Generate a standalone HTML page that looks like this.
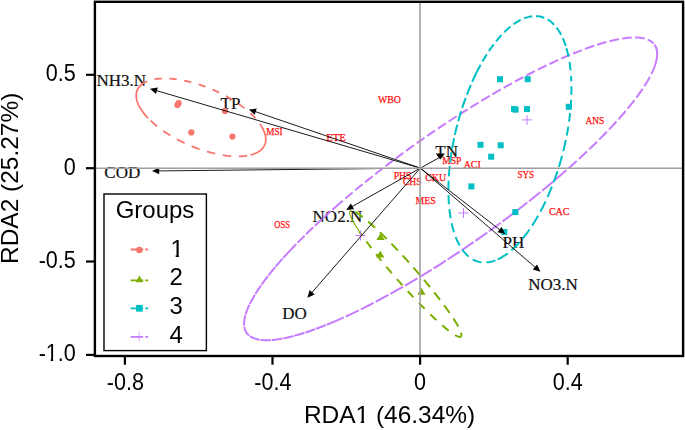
<!DOCTYPE html>
<html><head><meta charset="utf-8"><title>RDA</title>
<style>html,body{margin:0;padding:0;background:#fff}svg{display:block}</style></head>
<body>
<svg width="685" height="430" viewBox="0 0 685 430">
<rect width="685" height="430" fill="#fff"/>
<g font-family="'Liberation Serif', serif" font-size="10.6px" fill="#ff1010" stroke="#ff1010" stroke-width="0.25">
<text x="377.9" y="102.9" textLength="22.9" lengthAdjust="spacingAndGlyphs">WBO</text>
<text x="326.2" y="140.6" textLength="19.7" lengthAdjust="spacingAndGlyphs">ETE</text>
<text x="266.3" y="135.2" textLength="16.3" lengthAdjust="spacingAndGlyphs">MSI</text>
<text x="442.2" y="164.1" textLength="19.2" lengthAdjust="spacingAndGlyphs">MSP</text>
<text x="463.7" y="167.9" textLength="17.0" lengthAdjust="spacingAndGlyphs">ACI</text>
<text x="393.7" y="179.1" textLength="17.8" lengthAdjust="spacingAndGlyphs">PHS</text>
<text x="402.9" y="185.1" textLength="18.8" lengthAdjust="spacingAndGlyphs">CHS</text>
<text x="425.2" y="180.7" textLength="21.0" lengthAdjust="spacingAndGlyphs">CKU</text>
<text x="415.6" y="203.5" textLength="20.1" lengthAdjust="spacingAndGlyphs">MES</text>
<text x="517.5" y="178.0" textLength="16.6" lengthAdjust="spacingAndGlyphs">SYS</text>
<text x="548.9" y="214.6" textLength="20.6" lengthAdjust="spacingAndGlyphs">CAC</text>
<text x="585.5" y="123.6" textLength="18.7" lengthAdjust="spacingAndGlyphs">ANS</text>
<text x="274.3" y="227.6" textLength="15.8" lengthAdjust="spacingAndGlyphs">OSS</text>
</g>
<g font-family="'Liberation Serif', serif" font-size="17px" fill="#111" stroke="#111" stroke-width="0.2">
<text x="96.5" y="85.5">NH3.N</text>
<text x="220.6" y="108.5">TP</text>
<text x="104.3" y="178.0">COD</text>
<text x="435.3" y="156.9">TN</text>
<text x="312.6" y="221.5">NO2.N</text>
<text x="282.3" y="319.1">DO</text>
<text x="502.6" y="248.4">PH</text>
<text x="528.2" y="290.2">NO3.N</text>
</g>
<g fill="none" stroke="#C77CFF" stroke-width="2.00">
<path d="M654.18 67.64 L655.03 65.29 L655.75 63.03 L656.32 60.86 L656.75 58.77 L657.03 56.78 L657.17 54.87 L657.17 53.06 L657.03 51.35 L656.74 49.73 L656.30 48.20 L655.73 46.78 L655.01 45.45 L654.15 44.22 L653.15 43.10 L652.00 42.07 L650.72 41.15 L649.30 40.33 L647.74 39.61" stroke-dasharray="24 1.2 40 3" stroke-dashoffset="0.0"/>
<path d="M647.74 39.61 L646.05 39.01 L644.24 38.50 L642.28 38.10 L640.20 37.80 L637.99 37.60 L635.65 37.51 L633.18 37.52 L630.59 37.63 L627.87 37.85 L625.04 38.17 L622.08 38.60 L619.00 39.13 L615.81 39.76 L612.51 40.49 L609.10 41.33 L605.58 42.26 L601.95 43.30 L598.21 44.44 L594.38 45.67 L590.45 47.00 L586.42 48.43 L582.30 49.96 L578.09 51.58 L573.79 53.30 L569.41 55.11 L564.94 57.01 L560.40 59.00 L555.78 61.08 L551.09 63.25 L546.33 65.50 L541.51 67.84 L536.62 70.26 L531.68 72.76 L526.68 75.34 L521.62 78.00 L516.52 80.74 L511.37 83.55 L506.19 86.43 L500.96 89.38 L495.70 92.40 L490.41 95.49 L485.09 98.64 L479.74 101.85 L474.38 105.12 L469.00 108.45 L463.61 111.83 L458.21 115.27 L452.80 118.76 L447.40 122.29 L441.99 125.87 L436.59 129.50 L431.20 133.16 L425.83 136.87 L420.47 140.61 L415.13 144.38 L409.81 148.18 L404.53 152.01 L399.27 155.86 L394.05 159.74 L388.87 163.64 L383.73 167.56 L378.64 171.49 L373.60 175.43 L368.61 179.38 L363.68 183.34 L358.80 187.30 L353.99 191.26 L349.24 195.22 L344.57 199.18 L339.96 203.12" stroke-dasharray="9.6 3.3" stroke-dashoffset="9.6"/>
<path d="M339.96 203.12 L335.31 207.17 L330.74 211.21 L326.26 215.23 L321.87 219.23 L317.57 223.21 L313.37 227.16 L309.27 231.08 L305.27 234.98 L301.37 238.84 L297.59 242.67 L293.91 246.45 L290.35 250.20" stroke-dasharray="10 2" stroke-dashoffset="0.0"/>
<path d="M290.35 250.20 L286.97 253.82 L283.72 257.39 L280.57 260.92 L277.55 264.40 L274.64 267.82 L271.86 271.19 L269.20 274.51 L266.66 277.76 L264.25 280.95 L261.98 284.08 L259.83 287.15 L257.81 290.14 L255.93 293.06 L254.18 295.92 L252.57 298.70 L251.10 301.40 L249.77 304.02 L248.57 306.57 L247.51 309.03 L246.60 311.41 L245.82 313.70 L245.19 315.91 L244.70 318.03 L244.36 320.06 L244.15 322.00 L244.09 323.85 L244.17 325.60 L244.40 327.26 L244.77 328.83 L245.28 330.29 L245.93 331.66 L246.72 332.93 L247.66 334.10 L248.74 335.17 L249.95 336.14 L251.31 337.00 L252.80 337.77 L254.43 338.43 L256.20 338.98 L258.10 339.43 L260.13 339.78 L262.30 340.03 L264.60 340.16 L267.02 340.20 L269.57 340.13 L272.25 339.95 L275.05 339.67 L277.98 339.29 L281.02 338.80 L284.18 338.20 L287.46 337.51 L290.85 336.71 L294.35 335.81 L297.96 334.80 L301.67 333.70 L305.49 332.49 L309.40 331.19 L313.42 329.78 L317.53 328.28 L321.73 326.69 L326.02 324.99 L330.40 323.21" stroke-dasharray="10.5 0.9" stroke-dashoffset="0.0"/>
<path d="M330.40 323.21 L334.90 321.31 L339.48 319.32 L344.14 317.24 L348.87 315.07 L353.68 312.81 L358.55 310.46 L363.49 308.03 L368.49 305.51 L373.55 302.91 L378.66 300.23 L383.82 297.47 L389.03 294.64 L394.28 291.73 L399.57 288.74 L404.90 285.69 L410.26 282.57 L415.65 279.39 L421.07 276.14 L426.50 272.82 L431.95 269.45 L437.42 266.03 L442.89 262.54 L448.37 259.01 L453.85 255.43 L459.33 251.80 L464.80 248.12 L470.27 244.41 L475.71 240.65 L481.15 236.86 L486.56 233.04 L491.94 229.18 L497.30 225.29 L502.62 221.38 L507.90 217.45 L513.15 213.50 L518.35 209.53 L523.50 205.54 L528.61 201.54 L533.65 197.54 L538.64 193.52 L543.57 189.51 L548.43 185.49 L553.23 181.48 L557.95 177.47" stroke-dasharray="14.5 2.2" stroke-dashoffset="0.0"/>
<path d="M557.95 177.47 L562.62 173.45 L567.20 169.44 L571.71 165.44 L576.13 161.47 L580.46 157.51 L584.70 153.57 L588.84 149.66 L592.88 145.77 L596.83 141.92 L600.67 138.10 L604.40 134.31 L608.02 130.57 L611.53 126.86 L614.93 123.20 L618.21 119.59 L621.37 116.02 L624.41 112.51 L627.33 109.05 L630.12 105.65 L632.78 102.31 L635.31 99.03 L637.71 95.81 L639.98 92.66 L642.12 89.58 L644.11 86.57 L645.97 83.63 L647.69 80.77 L649.28 77.98 L650.71 75.27 L652.01 72.65 L653.17 70.10 L654.18 67.64" stroke-dasharray="11 3" stroke-dashoffset="0.0"/>
</g>
<g fill="none" stroke="#00BFC4" stroke-width="2.00">
<path d="M571.32 81.40 L571.20 78.54 L571.03 75.73 L570.81 72.97 L570.56 70.25 L570.26 67.58 L569.92 64.95 L569.54 62.38 L569.12 59.87 L568.66 57.41 L568.15 55.00 L567.61 52.66 L567.02 50.38 L566.40 48.15 L565.73 46.00" stroke-dasharray="8.5 5.5" stroke-dashoffset="3.0"/>
<path d="M565.73 46.00 L565.03 43.92 L564.30 41.90 L563.52 39.96 L562.71 38.08 L561.86 36.27 L560.98 34.53 L560.06 32.87 L559.10 31.27 L558.12 29.76 L557.10 28.31 L556.04 26.95 L554.96 25.66 L553.84 24.45 L552.70 23.32 L551.52 22.27 L550.32 21.30 L549.08 20.41 L547.82 19.61 L546.54 18.88 L545.23 18.24 L543.89 17.68 L542.53 17.21 L541.15 16.82 L539.75 16.52 L538.33 16.30 L536.88 16.16 L535.42 16.11 L533.94 16.14 L532.45 16.26 L530.94 16.47 L529.41 16.76 L527.87 17.13 L526.32 17.59 L524.76 18.13 L523.19 18.76 L521.61 19.46 L520.02 20.25 L518.42 21.13 L516.82 22.08 L515.21 23.12 L513.60 24.23 L511.99 25.43 L510.37 26.70 L508.76 28.05 L507.14 29.48 L505.53 30.98 L503.92 32.56 L502.31 34.21 L500.71 35.94 L499.12 37.73 L497.53 39.60 L495.96 41.53 L494.39 43.53 L492.83 45.60 L491.29 47.73 L489.75 49.93 L488.23 52.18 L486.73 54.50 L485.24 56.88 L483.77 59.31 L482.32 61.80 L480.89 64.34 L479.47 66.93 L478.08 69.57 L476.71 72.26" stroke-dasharray="8.4 3.8" stroke-dashoffset="0.0"/>
<path d="M476.71 72.26 L475.36 75.00 L474.04 77.77 L472.74 80.59 L471.47 83.45 L470.23 86.35 L469.01 89.29 L467.82 92.26 L466.66 95.26 L465.52 98.29 L464.42 101.35 L463.35 104.44 L462.32 107.55 L461.31 110.68 L460.34 113.84 L459.40 117.01 L458.50 120.19 L457.63 123.39 L456.80 126.60 L456.01 129.82 L455.25 133.04 L454.53 136.27 L453.85 139.50 L453.21 142.73 L452.60 145.96 L452.04 149.18 L451.52 152.40 L451.03 155.61 L450.59 158.81 L450.18 161.99 L449.82 165.16 L449.50 168.31 L449.22 171.44 L448.99 174.54 L448.79 177.63" stroke-dasharray="10.5 3.5" stroke-dashoffset="0.0"/>
<path d="M448.79 177.63 L448.64 180.71 L448.52 183.77 L448.46 186.79 L448.43 189.78 L448.45 192.73 L448.51 195.65 L448.61 198.53 L448.76 201.37 L448.95 204.16 L449.18 206.91 L449.46 209.61 L449.77 212.26 L450.13 214.86 L450.53 217.41 L450.98 219.90 L451.46 222.34 L451.98 224.71 L452.55 227.03 L453.16 229.29 L453.80 231.48 L454.49 233.61 L455.21 235.67 L455.97 237.67 L456.77 239.60 L457.61 241.45 L458.48 243.24 L459.39 244.95 L460.34 246.59 L461.32 248.15 L462.33 249.64 L463.38 251.05 L464.46 252.38 L465.57 253.63 L466.71 254.80 L467.88 255.90 L469.08 256.91 L470.32 257.83 L471.57 258.68 L472.86 259.44 L474.17 260.11 L475.51 260.71 L476.87 261.21 L478.25 261.63 L479.66 261.97 L481.08 262.22 L482.53 262.39 L484.00 262.46 L485.48 262.45 L486.99 262.36 L488.50 262.18 L490.04 261.91 L491.58 261.56 L493.14 261.12 L494.71 260.60 L496.30 259.99 L497.89 259.30" stroke-dasharray="9.3 5" stroke-dashoffset="-3.0"/>
<path d="M497.89 259.30 L499.49 258.52 L501.10 257.66 L502.72 256.71 L504.34 255.68 L505.97 254.57 L507.60 253.38 L509.23 252.11 L510.86 250.76 L512.49 249.33 L514.12 247.82 L515.74 246.24 L517.36 244.58 L518.98 242.85 L520.59 241.05 L522.19 239.17 L523.78 237.22 L525.37 235.21 L526.94 233.12 L528.50 230.98 L530.05 228.76 L531.59 226.49 L533.10 224.15 L534.61 221.75 L536.09 219.30 L537.56 216.79 L539.01 214.22 L540.43 211.60 L541.84 208.93 L543.22 206.21 L544.58 203.45 L545.92 200.64 L547.23 197.78 L548.51 194.89 L549.77 191.96 L551.00 188.99 L552.20 185.98 L553.37 182.94 L554.51 179.87 L555.61 176.77 L556.69 173.65 L557.73 170.50 L558.74 167.33 L559.72 164.14 L560.66 160.93 L561.56 157.71 L562.43 154.48 L563.26 151.23 L564.06 147.98 L564.82 144.71 L565.53 141.45 L566.21 138.18 L566.85 134.92" stroke-dasharray="11.5 4.7" stroke-dashoffset="0.0"/>
<path d="M566.85 134.92 L567.45 131.64 L568.01 128.36 L568.53 125.09 L569.01 121.82 L569.45 118.58 L569.84 115.34 L570.19 112.13 L570.50 108.93 L570.77 105.75 L570.99 102.60 L571.17 99.48 L571.30 96.38 L571.40 93.31 L571.44 90.28 L571.45 87.28 L571.41 84.32 L571.32 81.40" stroke-dasharray="8.5 5" stroke-dashoffset="0.0"/>
</g>
<g fill="none" stroke="#F8766D" stroke-width="1.80">
<path d="M260.03 124.11 L259.31 123.10 L258.55 122.08 L257.75 121.07 L256.91 120.04 L256.03 119.02 L255.11 118.00 L254.16 116.97 L253.17 115.95 L252.14 114.92 L251.08 113.90 L249.98 112.88 L248.85 111.87 L247.69 110.86 L246.49 109.85 L245.26 108.85 L244.00 107.85 L242.72 106.86 L241.40 105.88 L240.05 104.90 L238.68 103.94 L237.28 102.98 L235.86 102.03 L234.42 101.10 L232.95 100.17 L231.45 99.26 L229.94 98.36 L228.41 97.47 L226.86 96.60 L225.29 95.74 L223.70 94.90 L222.10 94.07 L220.48 93.26 L218.85 92.46 L217.21 91.68 L215.55 90.92 L213.89 90.18 L212.22 89.46 L210.53 88.75 L208.85 88.07 L207.16 87.41 L205.46 86.76 L203.76 86.14 L202.06 85.54 L200.35 84.96 L198.65 84.41 L196.95 83.87 L195.25 83.36 L193.56 82.88 L191.87 82.42 L190.19 81.98 L188.51 81.56 L186.85 81.17 L185.19 80.81 L183.55 80.47 L181.91 80.16 L180.29 79.87 L178.69 79.61 L177.10 79.38 L175.52 79.17 L173.97 78.98 L172.43 78.83 L170.91 78.70 L169.41 78.60 L167.94 78.52 L166.48 78.47 L165.06 78.45 L163.65 78.46 L162.27 78.49 L160.92 78.55 L159.60 78.63 L158.30 78.75 L157.04 78.89 L155.80 79.05 L154.60 79.24 L153.43 79.46 L152.29 79.71 L151.18 79.98 L150.11 80.28 L149.08 80.60 L148.08 80.95 L147.11 81.32" stroke-dasharray="7.3 7.6" stroke-dashoffset="7.5"/>
<path d="M147.11 81.32 L146.17 81.73 L145.27 82.16 L144.41 82.61 L143.59 83.09 L142.81 83.60 L142.07 84.12 L141.38 84.68 L140.72 85.25 L140.11 85.85 L139.55 86.47 L139.02 87.11 L138.54 87.78 L138.11 88.46 L137.72 89.17 L137.37 89.90 L137.07 90.64 L136.82 91.41 L136.61 92.19 L136.44 92.99 L136.33 93.81 L136.26 94.65 L136.23 95.50 L136.25 96.37 L136.32 97.25 L136.43 98.15 L136.59 99.06 L136.80 99.98 L137.05 100.92 L137.34 101.87 L137.68 102.83 L138.07 103.80 L138.50 104.77 L138.98 105.76 L139.50 106.76 L140.06 107.76 L140.67 108.77 L141.32 109.79 L142.01 110.81 L142.75 111.84 L143.53 112.87 L144.34 113.91 L145.20 114.94 L146.10 115.98 L147.03 117.02 L148.01 118.06"/>
<path d="M148.01 118.06 L149.01 119.09 L150.05 120.13 L151.13 121.15 L152.24 122.18 L153.39 123.20 L154.57 124.22 L155.78 125.24 L157.03 126.24 L158.30 127.25 L159.60 128.24 L160.94 129.23 L162.30 130.21 L163.69 131.18 L165.10 132.14 L166.54 133.09 L168.01 134.03 L169.50 134.96 L171.01 135.88 L172.54 136.78 L174.09 137.67 L175.66 138.54 L177.24 139.40 L178.85 140.25 L180.47 141.08 L182.10 141.89 L183.75 142.68 L185.41 143.46 L187.08 144.22 L188.76 144.96 L190.45 145.68 L192.14 146.38 L193.84 147.06 L195.55 147.73 L197.26 148.36 L198.98 148.98 L200.69 149.58 L202.41 150.15 L204.12 150.70 L205.83 151.22 L207.54 151.73 L209.24 152.21 L210.94 152.66 L212.63 153.09 L214.32 153.49 L215.99 153.87 L217.65 154.23 L219.31 154.55 L220.94 154.86 L222.57 155.13 L224.18 155.38 L225.77 155.60 L227.35 155.80 L228.91 155.97 L230.44 156.11 L231.96 156.22 L233.46 156.31 L234.93 156.37 L236.38 156.40 L237.80 156.41 L239.20 156.39 L240.57 156.34 L241.92 156.26 L243.23 156.16 L244.52 156.03 L245.77 155.87 L247.00 155.68 L248.19 155.47 L249.35 155.23 L250.47 154.97" stroke-dasharray="8.5 7.7" stroke-dashoffset="12.5"/>
<path d="M250.47 154.97 L251.55 154.68 L252.59 154.37 L253.60 154.03 L254.57 153.67 L255.50 153.28 L256.40 152.86 L257.26 152.43 L258.08 151.96 L258.86 151.48 L259.61 150.97 L260.31 150.44 L260.97 149.89 L261.59 149.31 L262.17 148.71 L262.70 148.09 L263.20 147.45 L263.65 146.79 L264.06 146.11 L264.42 145.41 L264.75 144.69 L265.02 143.95 L265.26 143.19 L265.45 142.42 L265.60 141.63 L265.70 140.82 L265.76 139.99 L265.77 139.15 L265.74 138.30 L265.66 137.43 L265.54 136.55 L265.38 135.65 L265.17 134.74 L264.92 133.82 L264.62 132.89 L264.28 131.95 L263.90 131.00 L263.47 130.04 L263.01 129.07 L262.49 128.09 L261.94 127.10 L261.35 126.11 L260.71 125.11 L260.03 124.11"/>
</g>
<g fill="none" stroke="#7CAE00" stroke-width="2.00">
<path d="M461.24 336.11 L461.34 335.83 L461.40 335.50 L461.42 335.12 L461.40 334.71 L461.35 334.25 L461.25 333.75 L461.12 333.21 L460.94 332.63 L460.73 332.01 L460.48 331.34 L460.19 330.64 L459.87 329.89 L459.50 329.11 L459.10 328.29 L458.66 327.43 L458.19 326.53 L457.67 325.60 L457.12 324.63 L456.54 323.62 L455.92 322.58 L455.26 321.51 L454.57 320.40 L453.85 319.26 L453.09 318.09 L452.30 316.89 L451.47 315.65 L450.62 314.39 L449.73 313.10 L448.81 311.78 L447.87 310.44 L446.89 309.07 L445.88 307.68 L444.85 306.26 L443.79 304.82 L442.70 303.36 L441.58 301.87 L440.44 300.37 L439.28 298.85 L438.09 297.31 L436.88 295.76 L435.65 294.19 L434.40 292.60 L433.13 291.01 L431.83 289.40 L430.52 287.78 L429.20 286.14 L427.85 284.51 L426.49 282.86 L425.12 281.21 L423.73 279.55 L422.33 277.89 L420.92 276.22 L419.49 274.55 L418.06 272.89 L416.62 271.22 L415.17 269.55 L413.71 267.89 L412.25 266.23 L410.78 264.58 L409.31 262.93 L407.84 261.29 L406.37 259.66 L404.89 258.04 L403.42 256.43 L401.94 254.84 L400.47 253.25 L399.00 251.68 L397.54 250.12 L396.08 248.59 L394.63 247.06 L393.19 245.56 L391.76 244.08 L390.33 242.62 L388.92 241.18 L387.51 239.76 L386.12 238.36 L384.75 236.99 L383.38 235.65 L382.04 234.33 L380.71 233.04 L379.39 231.78 L378.10 230.54 L376.82 229.34 L375.56 228.17 L374.33 227.03 L373.12 225.92 L371.92 224.84 L370.76 223.80 L369.61 222.80 L368.49 221.83 L367.40 220.89 L366.33 219.99 L365.29 219.13 L364.28 218.31 L363.30 217.53 L362.35 216.78 L361.42 216.08 L360.53 215.41 L359.67 214.79 L358.84 214.20 L358.05 213.66 L357.28 213.16 L356.55 212.70 L355.85 212.29 L355.19 211.91 L354.57 211.58 L353.98 211.29 L353.42 211.05 L352.90 210.85 L352.42 210.70 L351.97 210.58 L351.56 210.51 L351.19 210.49" stroke-dasharray="9.4 6.8" stroke-dashoffset="6.0"/>
<path d="M351.19 210.49 L350.86 210.51 L350.57 210.57 L350.32 210.68 L350.10 210.83 L349.92 211.02 L349.78 211.25 L349.67 211.53 L349.61 211.85 L349.58 212.21 L349.59 212.62 L349.64 213.07 L349.73 213.56 L349.86 214.08 L350.02 214.66 L350.22 215.27 L350.46 215.92 L350.74 216.61 L351.06 217.34 L351.41 218.11 L351.80 218.91 L352.23 219.76 L352.69 220.64 L353.19 221.55 L353.73 222.51 L354.30 223.50 L354.90 224.52 L355.54 225.57 L356.22 226.66 L356.93 227.79 L357.67 228.94 L358.44 230.12 L359.25 231.34" stroke-width="1.10"/>
<path d="M359.25 231.34 L360.09 232.58 L360.96 233.85 L361.86 235.15 L362.79 236.48 L363.75 237.83 L364.74 239.21 L365.76 240.61 L366.81 242.03 L367.88 243.48 L368.98 244.94 L370.10 246.43 L371.25 247.93 L372.42 249.45 L373.61 250.99 L374.82 252.55 L376.06 254.11 L377.32 255.70 L378.59 257.29 L379.89 258.90 L381.20 260.51 L382.53 262.14 L383.87 263.77 L385.23 265.41 L386.60 267.06 L387.99 268.71 L389.39 270.36 L390.80 272.02 L392.22 273.67 L393.65 275.33 L395.08 276.99 L396.53 278.64 L397.98 280.29 L399.43 281.94 L400.89 283.58 L402.35 285.21 L403.82 286.83 L405.28 288.45 L406.75 290.06 L408.22 291.65 L409.68 293.23 L411.14 294.80 L412.60 296.36 L414.05 297.90 L415.49 299.42 L416.93 300.92 L418.36 302.41 L419.78 303.88 L421.20 305.32 L422.60 306.75 L423.99 308.15 L425.37 309.53 L426.73 310.88 L428.08 312.21 L429.41 313.51 L430.73 314.78 L432.03 316.02 L433.31 317.24 L434.57 318.43 L435.81 319.58 L437.03 320.71 L438.23 321.80 L439.41 322.86 L440.57 323.88 L441.70 324.87 L442.80 325.83 L443.88 326.75 L444.93 327.63 L445.96 328.48 L446.96 329.28 L447.93 330.05 L448.87 330.78 L449.78 331.48 L450.66 332.13 L451.51 332.74 L452.32 333.31 L453.11 333.84 L453.86 334.33 L454.58 334.78 L455.27 335.19 L455.92 335.55 L456.53 335.87 L457.12 336.15 L457.66 336.38 L458.17 336.57 L458.65 336.72 L459.08 336.83 L459.49 336.89 L459.85 336.91 L460.18 336.89 L460.46 336.82 L460.72 336.71 L460.93 336.55 L461.10 336.35 L461.24 336.11" stroke-dasharray="8.4 7.8" stroke-dashoffset="4.0"/>
</g>
<circle cx="177.4" cy="105.0" r="3.1" fill="#F8766D"/>
<circle cx="178.6" cy="103.2" r="3.1" fill="#F8766D"/>
<circle cx="191.3" cy="132.4" r="3.1" fill="#F8766D"/>
<circle cx="232.4" cy="136.6" r="3.1" fill="#F8766D"/>
<circle cx="225.0" cy="111.0" r="3.1" fill="#F8766D"/>
<polygon points="380.5,233.4 376.3,240.0 384.7,240.0" fill="#7CAE00"/>
<polygon points="380.3,250.8 376.1,257.4 384.5,257.4" fill="#7CAE00"/>
<polygon points="421.5,288.1 417.3,294.7 425.7,294.7" fill="#7CAE00"/>
<rect x="497.0" y="76.2" width="6" height="6" fill="#00BFC4"/>
<rect x="524.7" y="76.2" width="6" height="6" fill="#00BFC4"/>
<rect x="511.0" y="106.1" width="6" height="6" fill="#00BFC4"/>
<rect x="512.6" y="106.6" width="6" height="6" fill="#00BFC4"/>
<rect x="524.0" y="106.1" width="6" height="6" fill="#00BFC4"/>
<rect x="565.8" y="103.8" width="6" height="6" fill="#00BFC4"/>
<rect x="477.5" y="141.8" width="6" height="6" fill="#00BFC4"/>
<rect x="497.7" y="142.3" width="6" height="6" fill="#00BFC4"/>
<rect x="488.2" y="153.7" width="6" height="6" fill="#00BFC4"/>
<rect x="468.4" y="183.4" width="6" height="6" fill="#00BFC4"/>
<rect x="512.3" y="209.1" width="6" height="6" fill="#00BFC4"/>
<rect x="501.3" y="229.0" width="6" height="6" fill="#00BFC4"/>
<path d="M522.0 119.9 h10 M527.0 114.9 v10" stroke="#C77CFF" stroke-width="1" fill="none"/>
<path d="M458.5 213.0 h10 M463.5 208.0 v10" stroke="#C77CFF" stroke-width="1" fill="none"/>
<path d="M355.4 235.5 h10 M360.4 230.5 v10" stroke="#C77CFF" stroke-width="1" fill="none"/>
<line x1="420.30" y1="168.10" x2="155.95" y2="90.45" stroke="#000" stroke-width="0.90"/><polygon points="150.00,88.70 157.84,87.56 155.98,93.90" fill="#000"/>
<line x1="420.30" y1="168.10" x2="254.77" y2="111.41" stroke="#000" stroke-width="0.90"/><polygon points="248.90,109.40 256.78,108.61 254.64,114.85" fill="#000"/>
<line x1="420.30" y1="168.10" x2="351.60" y2="206.85" stroke="#000" stroke-width="0.90"/><polygon points="346.20,209.90 350.85,203.49 354.09,209.24" fill="#000"/>
<line x1="420.30" y1="168.10" x2="311.47" y2="293.03" stroke="#000" stroke-width="0.90"/><polygon points="307.40,297.70 309.64,290.10 314.62,294.44" fill="#000"/>
<line x1="420.30" y1="168.10" x2="500.30" y2="230.20" stroke="#000" stroke-width="0.90"/><polygon points="505.20,234.00 497.49,232.19 501.54,226.98" fill="#000"/>
<line x1="420.30" y1="168.10" x2="535.71" y2="267.75" stroke="#000" stroke-width="0.90"/><polygon points="540.40,271.80 532.79,269.59 537.11,264.60" fill="#000"/>
<line x1="376.00" y1="168.60" x2="158.20" y2="170.93" stroke="#000" stroke-width="0.90"/><polygon points="152.00,171.00 159.16,167.62 159.23,174.22" fill="#000"/>
<line x1="420.30" y1="168.10" x2="440.4" y2="157.0" stroke="#000" stroke-width="0.9"/>
<polygon points="435.8,153.4 444.9,153.5 440.2,159.4" fill="#000"/>
<line x1="95" y1="168.20" x2="683" y2="168.20" stroke="#a0a0a2" stroke-width="1.5"/>
<line x1="420.05" y1="2" x2="420.05" y2="356" stroke="#a0a0a2" stroke-width="1.6"/>
<rect x="94.9" y="1.8" width="588.2" height="354.2" fill="none" stroke="#000" stroke-width="2.4"/>
<line x1="124.9" y1="356" x2="124.9" y2="364.7" stroke="#000" stroke-width="2.2"/>
<line x1="272.5" y1="356" x2="272.5" y2="364.7" stroke="#000" stroke-width="2.2"/>
<line x1="420.1" y1="356" x2="420.1" y2="364.7" stroke="#000" stroke-width="2.2"/>
<line x1="567.7" y1="356" x2="567.7" y2="364.7" stroke="#000" stroke-width="2.2"/>
<line x1="86" y1="74.8" x2="94.9" y2="74.8" stroke="#000" stroke-width="2.2"/>
<line x1="86" y1="168.2" x2="94.9" y2="168.2" stroke="#000" stroke-width="2.2"/>
<line x1="86" y1="261.5" x2="94.9" y2="261.5" stroke="#000" stroke-width="2.2"/>
<line x1="86" y1="354.9" x2="94.9" y2="354.9" stroke="#000" stroke-width="2.2"/>
<g font-family="'Liberation Sans', sans-serif" font-size="22px" fill="#000" style="filter:opacity(0.999)">
<text transform="translate(125.3,389.8) scale(0.98,1.06)" text-anchor="middle">-0.8</text>
<text transform="translate(272.9,389.8) scale(0.98,1.06)" text-anchor="middle">-0.4</text>
<text transform="translate(420.1,389.8) scale(0.98,1.06)" text-anchor="middle">0</text>
<text transform="translate(567.7,389.8) scale(0.98,1.06)" text-anchor="middle">0.4</text>
<text transform="translate(75.8,81.3) scale(0.98,1.06)" text-anchor="end">0.5</text>
<text transform="translate(75.8,174.7) scale(0.98,1.06)" text-anchor="end">0</text>
<text transform="translate(75.8,268.0) scale(0.98,1.06)" text-anchor="end">-0.5</text>
<text transform="translate(75.8,361.4) scale(0.98,1.06)" text-anchor="end">-1.0</text>
</g>
<g font-family="'Liberation Sans', sans-serif" font-size="24px" fill="#000" style="filter:opacity(0.999)">
<text x="303.9" y="423" textLength="171.3" lengthAdjust="spacingAndGlyphs">RDA1 (46.34%)</text>
<text transform="translate(18,264.0) rotate(-90)" textLength="171.3" lengthAdjust="spacingAndGlyphs">RDA2 (25.27%)</text>
</g>
<rect x="104" y="194" width="102.4" height="156.6" fill="#fff" stroke="#000" stroke-width="1.4"/>
<g font-family="'Liberation Sans', sans-serif" font-size="24px" fill="#000" style="filter:opacity(0.999)">
<text x="155" y="218.3" text-anchor="middle">Groups</text>
<text x="177.2" y="256.6" text-anchor="middle">1</text>
<text x="176.2" y="285.3" text-anchor="middle">2</text>
<text x="176.2" y="314.0" text-anchor="middle">3</text>
<text x="176.2" y="342.7" text-anchor="middle">4</text>
</g>
<rect x="171.5" y="254.4" width="4.2" height="2.9" fill="#fff"/>
<rect x="178.9" y="254.4" width="4.1" height="2.9" fill="#fff"/>
<rect x="46.4" y="358.4" width="4.3" height="2.9" fill="#fff"/>
<rect x="53.1" y="358.4" width="4.1" height="2.9" fill="#fff"/>
<rect x="356.3" y="420.4" width="4.5" height="2.9" fill="#fff"/>
<rect x="364.1" y="420.4" width="4.5" height="2.9" fill="#fff"/>
<path d="M130.6 249.5 H143.2 M145.3 249.5 H148.2" stroke="#F8766D" stroke-width="1.8" fill="none"/>
<circle cx="139.4" cy="250.0" r="3.2" fill="#F8766D"/>
<path d="M130.6 280.4 H143.2 M145.3 280.4 H148.2" stroke="#7CAE00" stroke-width="1.8" fill="none"/>
<polygon points="139.4,275.6 135.6,282.2 143.2,282.2" fill="#7CAE00"/>
<path d="M130.6 308.4 H143.2 M145.3 308.4 H148.2" stroke="#00BFC4" stroke-width="1.8" fill="none"/>
<rect x="136.1" y="304.9" width="6.6" height="6.8" fill="#00BFC4"/>
<path d="M130.6 336.8 H143.2 M145.3 336.8 H148.2" stroke="#C77CFF" stroke-width="1.8" fill="none"/>
<path d="M139.2 331.9 v9.6" stroke="#C77CFF" stroke-width="0.9" fill="none" opacity="0.75"/>
</svg>
</body></html>
